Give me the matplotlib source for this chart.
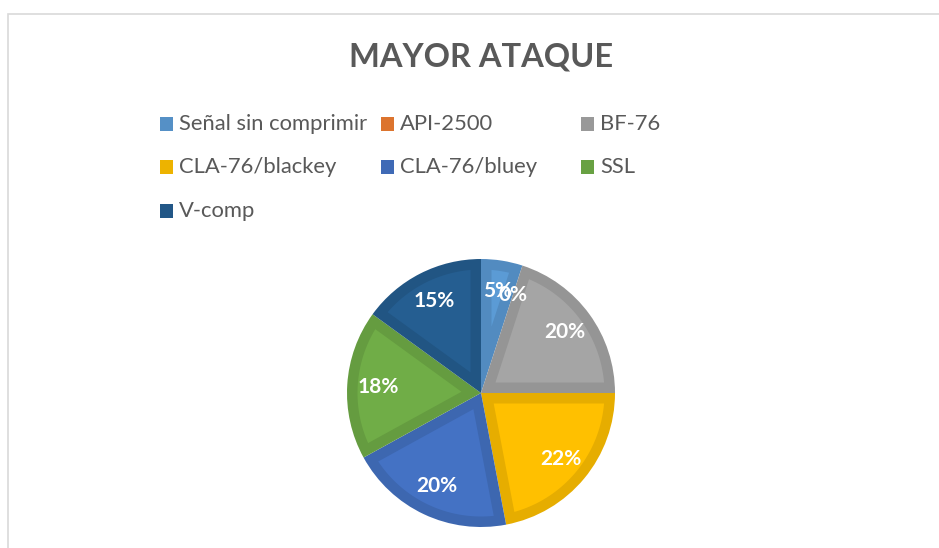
import numpy as np
import matplotlib
matplotlib.use('Agg')
import matplotlib.pyplot as plt
from matplotlib.patches import Rectangle, Polygon
from matplotlib.colors import to_rgb

# datos
categorias = ['Señal sin comprimir', 'API-2500', 'BF-76', 'CLA-76/blackey',
              'CLA-76/bluey', 'SSL', 'V-comp']
porcentajes = [5, 0, 20, 22, 20, 18, 15]
colores = ['#5B9BD5', '#ED7D31', '#A5A5A5', '#FFC000', '#4472C4', '#70AD47', '#255E91']

plt.rcParams['font.family'] = ['Lato', 'DejaVu Sans']

W, H = 939, 548
fig = plt.figure(figsize=(W / 100, H / 100), dpi=100)
fig.patch.set_facecolor('white')

# borde del grafico (recortado a la derecha y abajo)
fig.patches.append(Rectangle((8 / W, -0.1), 1.1, (H - 14) / H + 0.1,
                             transform=fig.transFigure, fill=False,
                             edgecolor='#D9D9D9', linewidth=1.2))

def oscurecer(c, f=0.9):
    r, g, b = to_rgb(c)
    return (r * f, g * f, b * f)

# titulo
fig.text(481 / W, 1 - 57 / H, 'MAYOR ATAQUE', ha='center', va='center',
         fontsize=23.5, fontweight='bold', color='#595959')

# leyenda manual (orden por filas como en Excel)
col_x = [160, 381, 581]
fila_y = [124, 167, 211]
for i, (cat, col) in enumerate(zip(categorias, colores)):
    x = col_x[i % 3]
    y = fila_y[i // 3]
    fig.patches.append(Rectangle((x / W, (H - y - 6.5) / H), 13 / W, 13 / H,
                                 transform=fig.transFigure,
                                 facecolor=oscurecer(col, 0.93), edgecolor='none'))
    fig.text((x + 19) / W, 1 - y / H, cat, ha='left', va='center',
             fontsize=15.8, color='#595959')

# pastel
cx, cy, r = 481, 393, 134
ax = fig.add_axes([(cx - r) / W, (H - cy - r) / H, 2 * r / W, 2 * r / H])
wedges, textos, autotextos = ax.pie(
    porcentajes, colors=colores, startangle=90, counterclock=False,
    autopct=lambda p: f'{p:.0f}%', pctdistance=0.77,
    wedgeprops=dict(linewidth=0),
    textprops=dict(color='white', fontsize=15, fontweight='bold', zorder=5))

# efecto de borde interior: cuña oscura + cuña interior clara desplazada
d = 10.5 / r
for w, col in zip(wedges, colores):
    t1, t2 = sorted((w.theta1, w.theta2))
    if t2 - t1 < 1e-6:
        continue
    w.set_facecolor(oscurecer(col))
    mitad = np.radians(t2 - t1) / 2
    bis = np.radians(t1) + mitad
    ap = d / np.sin(mitad)
    alfa = np.arcsin(d / (1 - d))
    angs = np.linspace(np.radians(t1) + alfa, np.radians(t2) - alfa, 60)
    pts = [(ap * np.cos(bis), ap * np.sin(bis))]
    pts += [((1 - d) * np.cos(a), (1 - d) * np.sin(a)) for a in angs]
    ax.add_patch(Polygon(pts, closed=True, facecolor=col, edgecolor='none', zorder=2))

ax.set_xlim(-1, 1)
ax.set_ylim(-1, 1)
ax.set_aspect('equal')
ax.axis('off')

fig.savefig('out.png', dpi=100, facecolor='white')
